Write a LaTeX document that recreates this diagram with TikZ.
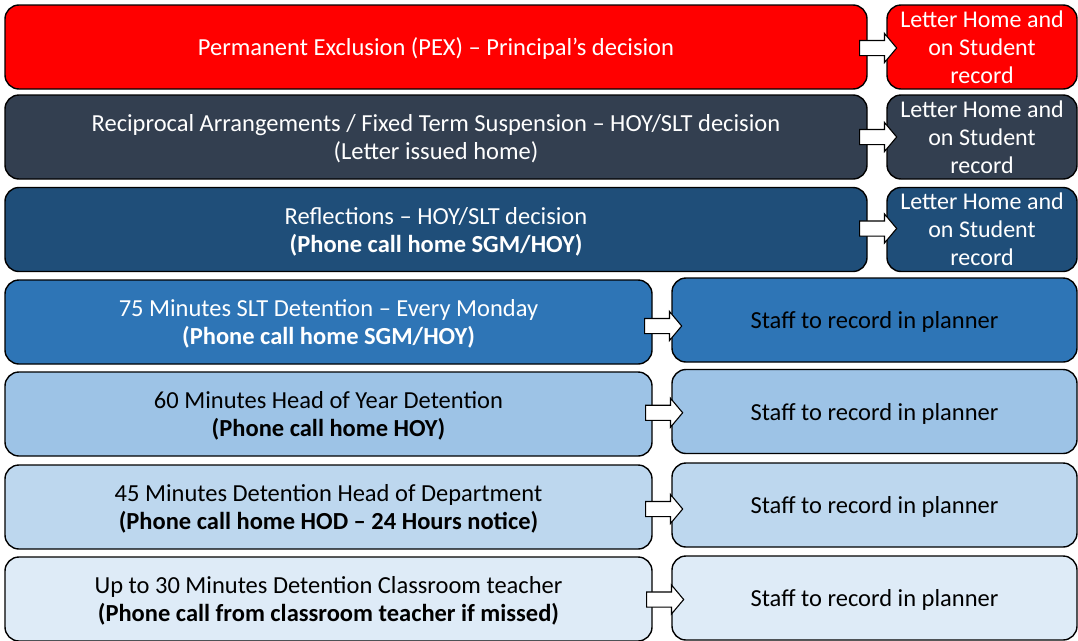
\documentclass[tikz,border=0pt]{standalone}
\usepackage{fontspec}
\setmainfont{Carlito}
\usetikzlibrary{shapes.arrows,calc}
\definecolor{cRed}{HTML}{FF0000}
\definecolor{cSlate}{HTML}{333F50}
\definecolor{cNavy}{HTML}{1F4E79}
\definecolor{cMid}{HTML}{2E75B6}
\definecolor{cLight}{HTML}{9DC3E6}
\definecolor{cPale}{HTML}{BDD7EE}
\definecolor{cPalest}{HTML}{DEEBF7}
\tikzset{
  box/.style={draw=black, line width=1.4pt, rounded corners=14pt, inner sep=0pt, align=center,
    font=\fontsize{24.5}{28}\selectfont},
  bigl/.style={box, minimum width=862pt, minimum height=84pt, text depth=0pt},
  smalll/.style={box, minimum width=647pt, minimum height=84pt, text depth=0pt},
  rtop/.style={box, minimum width=190pt, minimum height=84pt, text=white, font=\fontsize{24}{28}\selectfont},
  rbot/.style={box, minimum width=405pt, minimum height=84pt, text=black, text depth=0pt},
  blockarrow/.style={single arrow, draw=black, fill=white, line width=1.1pt,
    inner xsep=0pt, inner ysep=7pt, text height=0pt, text depth=0pt,
    minimum height=37pt, single arrow head extend=7pt,
    single arrow tip angle=100},
}
\begin{document}
\begin{tikzpicture}[x=1pt,y=-1pt]
\useasboundingbox (0,0) rectangle (1078,640);
\clip (0,0) rectangle (1078,640);
% row 1
\node[bigl, fill=cRed, text=white] (L1) at (436,47) {Permanent Exclusion (PEX) -- Principal’s decision};
\node[rtop, fill=cRed] (R1) at (982,47) {Letter Home and\\on Student\\record};
% row 2
\node[bigl, fill=cSlate, text=white] (L2) at (436,137) {Reciprocal Arrangements / Fixed Term Suspension -- HOY/SLT decision\\(Letter issued home)};
\node[rtop, fill=cSlate] (R2) at (982,137) {Letter Home and\\on Student\\record};
% row 3
\node[bigl, fill=cNavy, text=white] (L3) at (436,229.5) {Reflections -- HOY/SLT decision\\\textbf{(Phone call home SGM/HOY)}};
\node[rtop, fill=cNavy] (R3) at (982,229.5) {Letter Home and\\on Student\\record};
% row 4
\node[smalll, fill=cMid, text=white] (L4) at (328.5,322) {75 Minutes SLT Detention -- Every Monday\\\textbf{(Phone call home SGM/HOY)}};
\node[rbot, fill=cMid] (R4) at (874.5,320) {Staff to record in planner};
% row 5
\node[smalll, fill=cLight, text=black] (L5) at (328.5,414) {60 Minutes Head of Year Detention\\\textbf{(Phone call home HOY)}};
\node[rbot, fill=cLight] (R5) at (874.5,411.5) {Staff to record in planner};
% row 6
\node[smalll, fill=cPale, text=black] (L6) at (328.5,507) {45 Minutes Detention Head of Department\\\textbf{(Phone call home HOD -- 24 Hours notice)}};
\node[rbot, fill=cPale] (R6) at (874.5,505) {Staff to record in planner};
% row 7
\node[smalll, fill=cPalest, text=black] (L7) at (328.5,599) {Up to 30 Minutes Detention Classroom teacher\\\textbf{(Phone call from classroom teacher if missed)}};
\node[rbot, fill=cPalest] (R7) at (874.5,598) {Staff to record in planner};
% arrows
\node[blockarrow] (A1) at ($(L1.east)!0.5!(R1.west)+(-2,1)$) {};
\node[blockarrow] (A2) at ($(L2.east)!0.5!(R2.west)+(-2,0)$) {};
\node[blockarrow] (A3) at ($(L3.east)!0.5!(R3.west)+(-2,-1)$) {};
\node[blockarrow] (A4) at ($(L4.east)!0.5!(R4.west)+(-2,5)$) {};
\node[blockarrow] (A5) at ($(L5.east)!0.5!(R5.west)+(-1,0)$) {};
\node[blockarrow] (A6) at ($(L6.east)!0.5!(R6.west)+(-1,3)$) {};
\node[blockarrow] (A7) at ($(L7.east)!0.5!(R7.west)+(0,1)$) {};
\end{tikzpicture}
\end{document}
